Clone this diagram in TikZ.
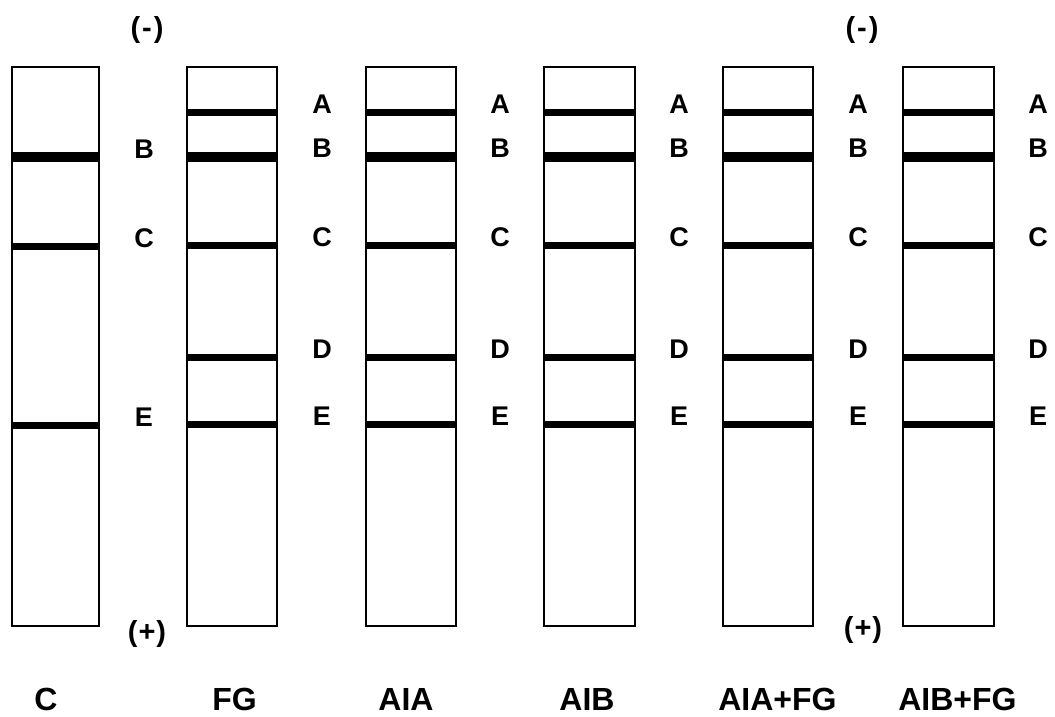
\documentclass[tikz,border=0pt]{standalone}
\usepackage{fontspec}
\setmainfont{Liberation Sans}
\begin{document}
\begin{tikzpicture}[x=1pt,y=-1pt,
  lanebox/.style={draw=black, line width=1.8pt, minimum height=559pt, anchor=north west, inner sep=0pt, outer sep=0pt},
  band/.style={line width=7pt, line cap=butt},
  thickband/.style={line width=10pt, line cap=butt},
  bandlabel/.style={font=\fontsize{27}{27}\selectfont\bfseries, anchor=base, inner sep=0pt},
  lanelabel/.style={font=\fontsize{32}{32}\selectfont\bfseries, anchor=base, inner sep=0pt},
  pole/.style={font=\fontsize{29}{29}\selectfont\bfseries, anchor=base, inner sep=0pt}]
\useasboundingbox (0,0) rectangle (1055,716);

% lanes
\foreach \i/\l/\r in {1/12/99, 2/187/277, 3/366/456, 4/544/635, 5/723/813, 6/903/994}{
  \pgfmathsetmacro{\w}{\r-\l}
  \node[lanebox, minimum width=\w pt] (lane\i) at (\l,67) {};
}

% lane 1 bands
\draw[thickband] (lane1.west |- 0,157) -- (lane1.east |- 0,157);
\draw[band] (lane1.west |- 0,246) -- (lane1.east |- 0,246);
\draw[band] (lane1.west |- 0,425) -- (lane1.east |- 0,425);
\node[bandlabel] (l1B) at (144,158) {B};
\node[bandlabel] (l1C) at (144,247) {C};
\node[bandlabel] (l1E) at (144,426) {E};

% lanes 2-6 bands
\foreach \i/\x in {2/322, 3/500, 4/679, 5/858, 6/1038}{
  \draw[band] (lane\i.west |- 0,112) -- (lane\i.east |- 0,112);
  \draw[thickband] (lane\i.west |- 0,156.5) -- (lane\i.east |- 0,156.5);
  \draw[band] (lane\i.west |- 0,245.5) -- (lane\i.east |- 0,245.5);
  \draw[band] (lane\i.west |- 0,357) -- (lane\i.east |- 0,357);
  \draw[band] (lane\i.west |- 0,424.5) -- (lane\i.east |- 0,424.5);
  \node[bandlabel] (l\i A) at (\x,113) {A};
  \node[bandlabel] (l\i B) at (\x,157.5) {B};
  \node[bandlabel] (l\i C) at (\x,246.5) {C};
  \node[bandlabel] (l\i D) at (\x,358) {D};
  \node[bandlabel] (l\i E) at (\x,425.5) {E};
}

% poles
\node[pole] (minus1) at (147,37) {(\hspace{2pt}-\hspace{2pt})};
\node[pole] (plus1) at (147,641) {(\hspace{1pt}+\hspace{1pt})};
\node[pole] (minus2) at (862,37) {(\hspace{2pt}-\hspace{2pt})};
\node[pole] (plus2) at (863,637) {(\hspace{1pt}+\hspace{1pt})};

% lane labels
\node[lanelabel] (tC) at (46,710) {C};
\node[lanelabel] (tFG) at (234.5,710) {FG};
\node[lanelabel] (tAIA) at (406,710) {AIA};
\node[lanelabel] (tAIB) at (587,710) {AIB};
\node[lanelabel] (tAIAFG) at (777.5,710) {AIA+FG};
\node[lanelabel] (tAIBFG) at (957.5,710) {AIB+FG};
\end{tikzpicture}
\end{document}
